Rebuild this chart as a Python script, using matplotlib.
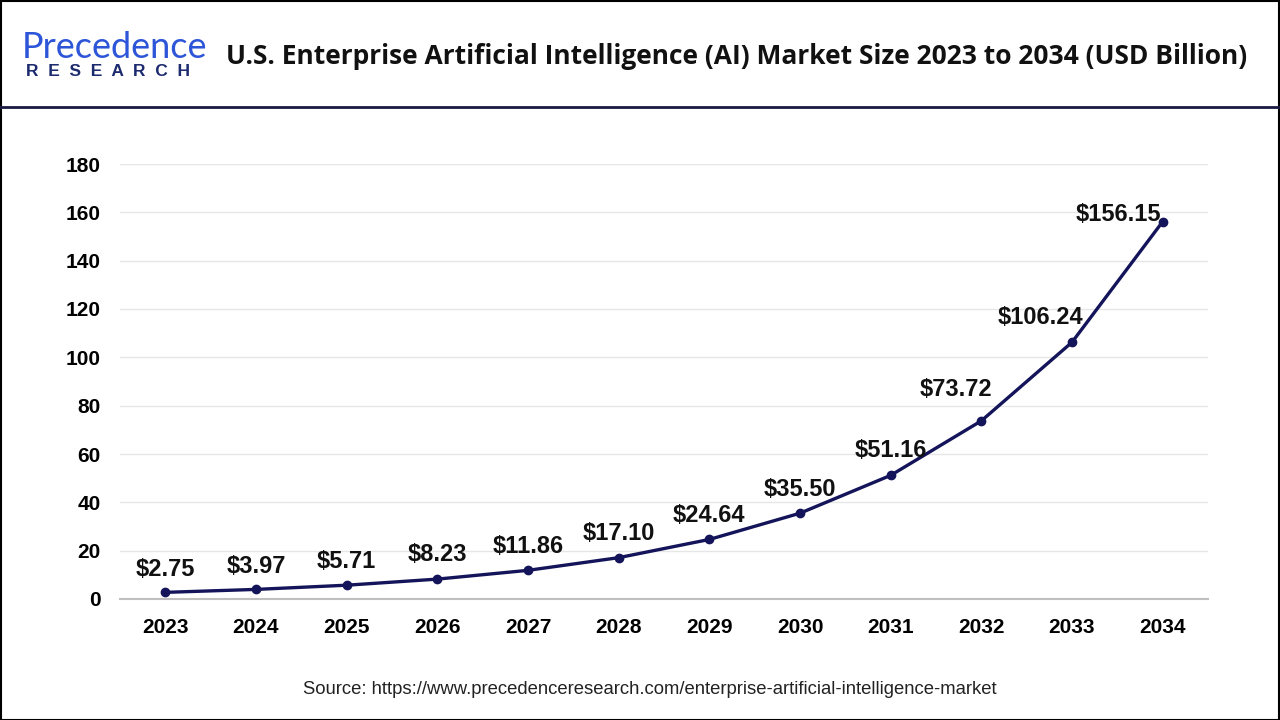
import matplotlib
matplotlib.use("Agg")
import matplotlib.pyplot as plt
from matplotlib.lines import Line2D
from matplotlib.patches import Rectangle

years = ["2023", "2024", "2025", "2026", "2027", "2028", "2029", "2030", "2031", "2032", "2033", "2034"]
values = [2.75, 3.97, 5.71, 8.23, 11.86, 17.10, 24.64, 35.50, 51.16, 73.72, 106.24, 156.15]
labels = ["$2.75", "$3.97", "$5.71", "$8.23", "$11.86", "$17.10", "$24.64", "$35.50",
          "$51.16", "$73.72", "$106.24", "$156.15"]
yticks = [0, 20, 40, 60, 80, 100, 120, 140, 160, 180]

title = "U.S. Enterprise Artificial Intelligence (AI) Market Size 2023 to 2034 (USD Billion)"
source = "Source: https://www.precedenceresearch.com/enterprise-artificial-intelligence-market"

W, H = 1280, 720
fig = plt.figure(figsize=(12.8, 7.2), dpi=100)
fig.patch.set_facecolor("white")

# outer border
fig.add_artist(Rectangle((0.5 / W, 0.5 / H), 1 - 1.5 / W, 1 - 1.5 / H, transform=fig.transFigure,
                         fill=False, edgecolor="black", linewidth=1.5))
# header separator
fig.add_artist(Line2D([0, 1], [1 - 107 / H, 1 - 107 / H], transform=fig.transFigure,
                      color="#1a1a40", linewidth=2))

# logo
fig.text(22 / W, 1 - 47 / H, "Precedence", fontsize=26, color="#2d55d8",
         family="Lato", va="center", ha="left")
fig.text(26 / W, 1 - 72 / H, "R  E  S  E  A  R  C  H", fontsize=12.5, color="#1c2a6e",
         family="Liberation Sans", fontweight="bold", va="center", ha="left")

# title
fig.text(226 / W, 1 - 56 / H, title, fontsize=19, fontweight="bold", family="Open Sans",
         color="#111111", va="center", ha="left")

# axes
ax = fig.add_axes([120 / W, 1 - 599 / H, (1208 - 120) / W, (599 - 164) / H])
x = list(range(len(years)))
ax.plot(x, values, color="#14145a", linewidth=2.4, marker="o", markersize=6, zorder=3)
ax.set_xlim(-0.5, 11.5)
ax.set_ylim(0, 180)
ax.set_yticks(yticks)
ax.set_xticks(x)
ax.set_xticklabels(years)
ax.grid(axis="y", color="#e6e6e6", linewidth=1)
ax.set_axisbelow(True)
for s in ["top", "right", "left"]:
    ax.spines[s].set_visible(False)
ax.spines["bottom"].set_color("#bfbfbf")
ax.spines["bottom"].set_linewidth(1.5)
ax.tick_params(axis="both", length=0, labelsize=15)
ax.tick_params(axis="y", pad=14)
ax.tick_params(axis="x", pad=14)
for t in ax.get_xticklabels() + ax.get_yticklabels():
    t.set_fontweight("bold")
    t.set_family("Liberation Sans")

offsets = [(0, 23), (0, 23), (0, 24), (0, 25), (0, 24), (0, 24), (0, 24), (0, 24),
           (0, 25), (-25, 31), (-32, 25), (-44, 7)]
for xi, v, lab, off in zip(x, values, labels, offsets):
    ax.annotate(lab, (xi, v), xytext=off, textcoords="offset pixels", ha="center", va="center",
                fontsize=17, fontweight="bold", family="Liberation Sans", color="#111111")

fig.text(650 / W, 1 - 689 / H, source, fontsize=13.3, family="Liberation Sans",
         color="#222222", ha="center", va="center")

fig.savefig("out.png", dpi=100)
